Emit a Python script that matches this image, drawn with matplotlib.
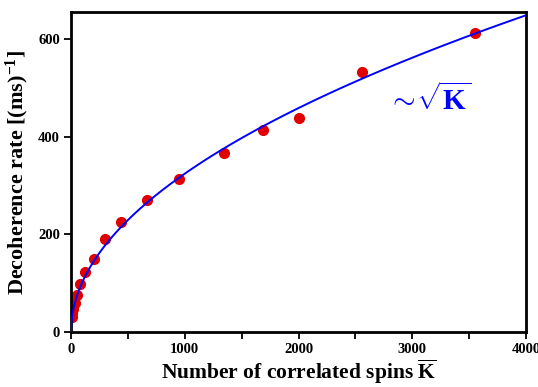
import numpy as np
import matplotlib
matplotlib.use("Agg")
import matplotlib.pyplot as plt
from matplotlib.ticker import MultipleLocator

# ---- data ----
spins_k = [9, 12, 18, 35, 53, 79, 123, 202, 298, 439, 667, 947, 1342, 1684, 2000, 2553, 3553]
rate = [31, 40, 47, 60, 76, 98, 123, 150, 190, 225, 270, 313, 367, 414, 438, 533, 611]

x_ticks = [0, 1000, 2000, 3000, 4000]
y_ticks = [0, 200, 400, 600]

plt.rcParams["font.family"] = ["Liberation Serif", "DejaVu Serif"]
plt.rcParams["font.weight"] = "bold"
plt.rcParams["mathtext.fontset"] = "custom"
plt.rcParams["mathtext.rm"] = "Liberation Serif:bold"
plt.rcParams["mathtext.bf"] = "Liberation Serif:bold"
plt.rcParams["mathtext.it"] = "Liberation Serif:bold"

# least squares fit of y = a*sqrt(K)
kx = np.array(spins_k, float)
ky = np.array(rate, float)
a = np.sum(ky * np.sqrt(kx)) / np.sum(kx)

fig = plt.figure(figsize=(5.38, 3.87), dpi=100)
ax = fig.add_axes([0.132, 0.142, 0.846, 0.827])

kk = np.linspace(0, 4000, 600)
ax.plot(kx, ky, "o", color="#e00000", ms=7, zorder=2)
ax.plot(kk, a * np.sqrt(kk), color="#0000ff", lw=1.4, zorder=3)

ax.set_xlim(0, 4000)
ax.set_ylim(0, 655)
ax.set_xticks(x_ticks)
ax.set_yticks(y_ticks)
ax.xaxis.set_minor_locator(MultipleLocator(500))
ax.tick_params(which="both", direction="out", width=1.3, labelsize=10.5, pad=3)
ax.tick_params(which="major", length=5)
ax.tick_params(which="minor", length=5)
for s in ax.spines.values():
    s.set_linewidth(2)
for lab in ax.get_xticklabels() + ax.get_yticklabels():
    lab.set_fontweight("bold")

ax.set_xlabel(r"Number of correlated spins $\overline{\mathbf{K}}$",
              fontsize=15.5, fontweight="bold", labelpad=1)
ax.set_ylabel(r"Decoherence rate [(ms)$^{-1}$]", fontsize=16, fontweight="bold", labelpad=5)

ax.text(3150, 475, r"$\sim\!\sqrt{\mathbf{K}}$", color="#0000ff", fontsize=21,
        ha="center", va="center")

fig.savefig("out.png", dpi=100)
